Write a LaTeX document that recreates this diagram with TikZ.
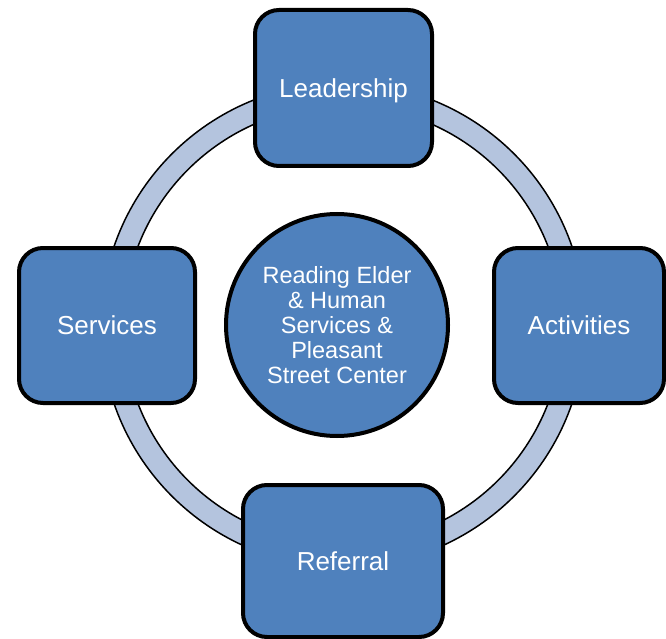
\documentclass[tikz,border=0pt]{standalone}
\usepackage{fontspec}
\setmainfont{Liberation Sans}
\definecolor{boxblue}{HTML}{4F81BD}
\definecolor{ringblue}{HTML}{B4C4DE}
\begin{document}
\begin{tikzpicture}[x=1pt,y=-1pt,
  stagebox/.style={draw=black, line width=4pt, fill=boxblue, rounded corners=24pt,
    text=white, font=\fontsize{26}{30}\selectfont, inner sep=0pt,
    text height=18.6pt, text depth=0pt},
  hubnode/.style={circle, draw=black, line width=4pt, fill=boxblue, text=white,
    align=center, inner sep=0pt, font=\fontsize{23.5}{25}\selectfont}]
\useasboundingbox (0,0) rectangle (666,639);
\clip (0,0) rectangle (666,639);
% ring
\coordinate (rc) at (343,325);
\path[draw=black, line width=1.5pt, fill=ringblue, even odd rule]
  (rc) circle[radius=242pt] (rc) circle[radius=219.5pt];
% hub
\node[hubnode, minimum size=222pt] (hub) at (337,325)
  {Reading Elder\\\& Human\\Services \&\\Pleasant\\Street Center};
% boxes
\node[stagebox, minimum width=177pt, minimum height=156pt] (lead) at (343.5,88) {Leadership};
\node[stagebox, minimum width=176pt, minimum height=155pt] (serv) at (107,325.5) {Services};
\node[stagebox, minimum width=170pt, minimum height=155pt] (act) at (579,325.5) {Activities};
\node[stagebox, minimum width=200pt, minimum height=152pt] (ref) at (343,561) {Referral};
\end{tikzpicture}
\end{document}
